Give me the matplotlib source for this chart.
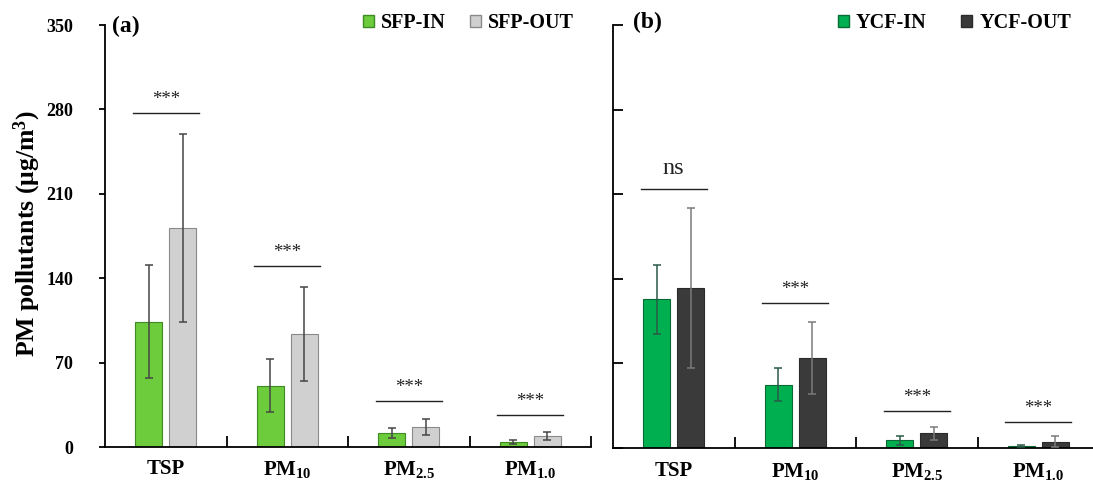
import matplotlib
matplotlib.use('Agg')
import matplotlib.pyplot as plt
from matplotlib.patches import Patch
import numpy as np

plt.rcParams['font.family'] = 'Liberation Serif'
plt.rcParams['font.weight'] = 'bold'
plt.rcParams['mathtext.fontset'] = 'custom'
plt.rcParams['mathtext.rm'] = 'Liberation Serif:bold'
plt.rcParams['mathtext.it'] = 'Liberation Serif:bold:italic'
plt.rcParams['mathtext.bf'] = 'Liberation Serif:bold'

# data
categories = ['TSP', 'PM$_{\\mathrm{10}}$', 'PM$_{\\mathrm{2.5}}$', 'PM$_{\\mathrm{1.0}}$']

sfp_in = [104, 51, 11.5, 4.2]
sfp_in_sd = [47, 22, 4, 1.6]
sfp_out = [182, 94, 16.5, 8.9]
sfp_out_sd = [78, 39, 6.5, 3.2]
sfp_sig = ['***', '***', '***', '***']
sfp_sig_y = [277, 150, 38, 26.3]

ycf_in = [123, 52.5, 6.3, 1.5]
ycf_in_sd = [28.5, 14, 3.5, 0.6]
ycf_out = [132.5, 74.5, 12, 5.3]
ycf_out_sd = [66, 30, 5, 4.6]
ycf_sig = ['ns', '***', '***', '***']
ycf_sig_y = [214, 119.7, 30.6, 21.3]

yticks = [0, 70, 140, 210, 280, 350]

W, H = 1093, 483
fig = plt.figure(figsize=(W / 100, H / 100), dpi=100)
ax1 = fig.add_axes([105 / W, 1 - 447 / H, 486 / W, 422 / H])
ax2 = fig.add_axes([613 / W, 1 - 448 / H, 486 / W, 423 / H])

x = np.arange(len(categories)) + 0.5
bw = 0.225
off = 0.14


def draw_panel(ax, vin, sdin, vout, sdout, sig, sig_y, c_in, e_in, c_out, e_out,
               err_in, err_out):
    ax.bar(x - off, vin, bw, color=c_in, edgecolor=e_in, linewidth=0.8, zorder=2)
    ax.bar(x + off, vout, bw, color=c_out, edgecolor=e_out, linewidth=0.8, zorder=2)
    ax.errorbar(x - off, vin, yerr=sdin, fmt='none', ecolor=err_in,
                elinewidth=1.1, capsize=3, capthick=1.1, zorder=3)
    ax.errorbar(x + off, vout, yerr=sdout, fmt='none', ecolor=err_out,
                elinewidth=1.1, capsize=3, capthick=1.1, zorder=3)
    for xi, s, yy in zip(x, sig, sig_y):
        ax.plot([xi - 0.27, xi + 0.27], [yy, yy], color='#222222', lw=1.0)
        if s == 'ns':
            ax.text(xi, yy + 13, s, ha='center', va='baseline', fontsize=17.5,
                    fontweight='normal', color='#222222')
        else:
            ax.text(xi, yy + 7.5, s, ha='center', va='baseline', fontsize=13.5,
                    fontweight='normal', color='#222222')
    ax.set_xlim(0, 4)
    ax.set_ylim(0, 350)
    ax.set_yticks(yticks)
    ax.set_xticks(x)
    ax.set_xticklabels(categories, fontsize=15, fontweight='bold')
    ax.set_xticks([1, 2, 3, 4], minor=True)
    ax.tick_params(axis='x', which='major', length=0, pad=9)
    ax.tick_params(axis='x', which='minor', direction='in', length=8, width=1.3)
    for side in ['top', 'right']:
        ax.spines[side].set_visible(False)
    for side in ['left', 'bottom']:
        ax.spines[side].set_linewidth(1.3)


# (a) SFP
draw_panel(ax1, sfp_in, sfp_in_sd, sfp_out, sfp_out_sd, sfp_sig, sfp_sig_y,
           '#6ccc3c', '#3f8a25', '#d0d0d0', '#8a8a8a', '#454545', '#454545')
ax1.set_yticklabels([str(v) for v in yticks], fontsize=13, fontweight='bold')
ax1.tick_params(axis='y', direction='out', length=4, width=1.3, pad=19)

# (b) YCF
draw_panel(ax2, ycf_in, ycf_in_sd, ycf_out, ycf_out_sd, ycf_sig, ycf_sig_y,
           '#00b050', '#0a6a35', '#3a3a3a', '#2a2a2a', '#2a5a48', '#7a7a7a')
ax2.set_yticklabels([])
ax2.tick_params(axis='y', direction='in', length=7, width=1.3)

fig.text(126 / W, 1 - 26.5 / H, '(a)', fontsize=17, fontweight='bold',
         ha='center', va='center')
fig.text(647 / W, 1 - 22 / H, '(b)', fontsize=17, fontweight='bold',
         ha='center', va='center')

fig.text(27 / W, 1 - 234 / H, 'PM pollutants (μg/m$^{\\mathrm{3}}$)', rotation=90,
         fontsize=18.5, fontweight='bold', ha='center', va='center')

leg1 = [Patch(facecolor='#6ccc3c', edgecolor='#3f8a25', label='SFP-IN'),
        Patch(facecolor='#d0d0d0', edgecolor='#8a8a8a', label='SFP-OUT')]
fig.legend(handles=leg1, loc='center left', bbox_to_anchor=(363 / W, 1 - 23 / H),
           ncol=2, frameon=False, handlelength=0.55, handleheight=0.55,
           handletextpad=0.35, columnspacing=1.2, borderpad=0, borderaxespad=0,
           prop={'weight': 'bold', 'size': 14.5})

leg2 = [Patch(facecolor='#00b050', edgecolor='#0a6a35', label='YCF-IN'),
        Patch(facecolor='#3a3a3a', edgecolor='#2a2a2a', label='YCF-OUT')]
fig.legend(handles=leg2, loc='center left', bbox_to_anchor=(838 / W, 1 - 23 / H),
           ncol=2, frameon=False, handlelength=0.55, handleheight=0.55,
           handletextpad=0.35, columnspacing=1.7, borderpad=0, borderaxespad=0,
           prop={'weight': 'bold', 'size': 14.5})

fig.savefig('out.png', dpi=100)
